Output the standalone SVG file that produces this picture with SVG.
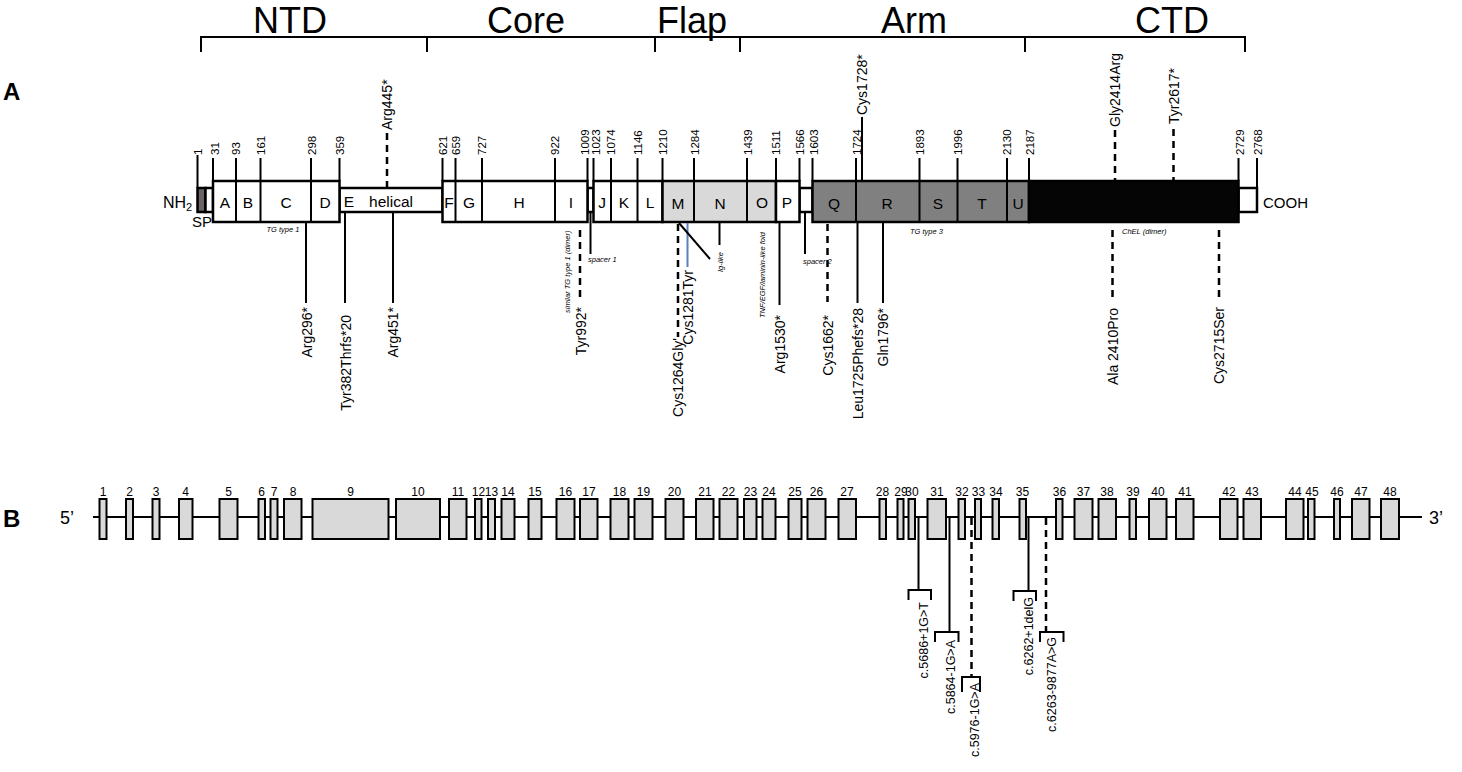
<svg xmlns="http://www.w3.org/2000/svg" width="1462" height="772" viewBox="0 0 1462 772">
<style>
text{font-family:"Liberation Sans",Arial,sans-serif;fill:#000}
.dom{font-size:36px;text-anchor:middle}
.pl{font-size:24px;font-weight:bold}
.num{font-size:11.5px}
.let{font-size:15.5px;text-anchor:middle}
.mut{font-size:14px}
.mute{font-size:14px;text-anchor:end}
.it{font-size:7.5px;font-style:italic}
.gm{font-size:12.5px;text-anchor:end}
.ex{font-size:12px;text-anchor:middle}
.box{stroke:#000;stroke-width:2.5}
.ln{stroke:#000;stroke-width:2;fill:none}
.ds{stroke:#000;stroke-width:2.5;stroke-dasharray:7 5;fill:none}
.exon{fill:#d9d9d9;stroke:#000;stroke-width:2}
</style>

<g id="domain-brackets">
<path class="ln" d="M201 52V37H1245V52M427 37V52M655 37V52M740 37V52M1025 37V52"/>
<text class="dom" x="290" y="33">NTD</text>
<text class="dom" x="526" y="33">Core</text>
<text class="dom" x="692" y="33">Flap</text>
<text class="dom" x="914" y="33">Arm</text>
<text class="dom" x="1172" y="33">CTD</text>
</g>

<text class="pl" x="3" y="100">A</text>
<text class="pl" x="3" y="527">B</text>

<g id="protein">
<text x="163" y="208" style="font-size:16px">NH<tspan style="font-size:11px" dy="3">2</tspan></text>
<text x="192" y="227" style="font-size:15px">SP</text>
<text x="1263" y="208" style="font-size:15px">COOH</text>
<!-- ticks -->
<path class="ln" d="M197.5 155V188M213 158V181M236 158V181M260.5 158V181M311 158V181M339.5 158V181M442.5 158V181M455.5 158V181M482 158V181M555 158V181M587.5 158V181M593.5 158V181M611 158V181M637.5 158V181M662.5 158V181M694 158V181M747 158V181M776 158V181M799.5 158V181M812.5 158V181M856 158V181M919.5 158V181M957.5 158V181M1007 158V181M1029 158V181M1238.5 158V181M1257 158V188"/>
<!-- thin boxes -->
<rect class="box" x="197.5" y="188" width="8" height="24" fill="#6b6464"/>
<rect class="box" x="205.5" y="188" width="7.5" height="24" fill="#fff"/>
<rect class="box" x="339.5" y="188" width="103" height="24" fill="#fff"/>
<rect class="box" x="587.5" y="188" width="6" height="24" fill="#fff"/>
<rect class="box" x="799.5" y="188" width="13" height="24" fill="#fff"/>
<rect class="box" x="1238.5" y="188" width="18.5" height="24" fill="#fff"/>
<!-- main boxes -->
<rect class="box" x="213" y="181" width="126.5" height="41" fill="#fff"/>
<rect class="box" x="442.5" y="181" width="145" height="41" fill="#fff"/>
<rect class="box" x="593.5" y="181" width="69" height="41" fill="#fff"/>
<rect class="box" x="662.5" y="181" width="113.5" height="41" fill="#d9d9d9"/>
<rect class="box" x="776" y="181" width="23.5" height="41" fill="#fff"/>
<rect class="box" x="812.5" y="181" width="216.5" height="41" fill="#808080"/>
<rect class="box" x="1029" y="181" width="209.5" height="41" fill="#050505"/>
<!-- dividers -->
<path class="ln" d="M236 181V222M260.5 181V222M311 181V222M455.5 181V222M482 181V222M555 181V222M611 181V222M637.5 181V222M694 181V222M747 181V222M856 181V222M919.5 181V222M957.5 181V222M1007 181V222"/>
<!-- letters -->
<text class="let" x="225" y="208">A</text>
<text class="let" x="248" y="208">B</text>
<text class="let" x="286" y="208">C</text>
<text class="let" x="325" y="208">D</text>
<text class="let" x="349" y="207">E</text>
<text class="let" x="391" y="207">helical</text>
<text class="let" x="449" y="208">F</text>
<text class="let" x="469" y="208">G</text>
<text class="let" x="519" y="208">H</text>
<text class="let" x="571" y="208">I</text>
<text class="let" x="602" y="208">J</text>
<text class="let" x="624" y="208">K</text>
<text class="let" x="650" y="208">L</text>
<text class="let" x="678" y="209">M</text>
<text class="let" x="720" y="209">N</text>
<text class="let" x="762" y="208">O</text>
<text class="let" x="787" y="208">P</text>
<text class="let" x="834" y="209">Q</text>
<text class="let" x="887" y="209">R</text>
<text class="let" x="938" y="209">S</text>
<text class="let" x="982" y="209">T</text>
<text class="let" x="1018" y="209">U</text>
<!-- numbers -->
<g class="numbers">
<text class="num" transform="translate(202,155) rotate(-90)">1</text>
<text class="num" transform="translate(219,155) rotate(-90)">31</text>
<text class="num" transform="translate(240,155) rotate(-90)">93</text>
<text class="num" transform="translate(265,155) rotate(-90)">161</text>
<text class="num" transform="translate(315.5,155) rotate(-90)">298</text>
<text class="num" transform="translate(343.5,155) rotate(-90)">359</text>
<text class="num" transform="translate(447,155) rotate(-90)">621</text>
<text class="num" transform="translate(460,155) rotate(-90)">659</text>
<text class="num" transform="translate(486,155) rotate(-90)">727</text>
<text class="num" transform="translate(559,155) rotate(-90)">922</text>
<text class="num" transform="translate(589,155) rotate(-90)">1009</text>
<text class="num" transform="translate(599.5,155) rotate(-90)">1023</text>
<text class="num" transform="translate(615,155) rotate(-90)">1074</text>
<text class="num" transform="translate(642,155) rotate(-90)">1146</text>
<text class="num" transform="translate(667,155) rotate(-90)">1210</text>
<text class="num" transform="translate(699,155) rotate(-90)">1284</text>
<text class="num" transform="translate(752,155) rotate(-90)">1439</text>
<text class="num" transform="translate(780,155) rotate(-90)">1511</text>
<text class="num" transform="translate(804,155) rotate(-90)">1566</text>
<text class="num" transform="translate(818,155) rotate(-90)">1603</text>
<text class="num" transform="translate(860.5,155) rotate(-90)">1724</text>
<text class="num" transform="translate(924,155) rotate(-90)">1893</text>
<text class="num" transform="translate(962,155) rotate(-90)">1996</text>
<text class="num" transform="translate(1011,155) rotate(-90)">2130</text>
<text class="num" transform="translate(1034,155) rotate(-90)">2187</text>
<text class="num" transform="translate(1244,155) rotate(-90)">2729</text>
<text class="num" transform="translate(1262,155) rotate(-90)">2768</text>
</g>
<!-- italic annotations -->
<text class="it" x="283" y="232" text-anchor="middle">TG type 1</text>
<text class="it" transform="translate(570,313) rotate(-90)">similar TG type 1 (dimer)</text>
<text class="it" x="588" y="262">spacer 1</text>
<text class="it" transform="translate(722.5,272) rotate(-90)">Ig-like</text>
<text class="it" transform="translate(764.5,318) rotate(-90)">TNF/EGF/laminin-like fold</text>
<text class="it" x="803" y="264">spacer 2</text>
<text class="it" x="910" y="234">TG type 3</text>
<text class="it" x="1122" y="234">ChEL (dimer)</text>
</g>

<g id="connectors">
<!-- upper -->
<path class="ds" d="M387 133V188"/>
<path class="ln" d="M862 117V181"/>
<path class="ds" d="M1115 130V181"/>
<path class="ds" d="M1173.5 129V181"/>
<!-- lower -->
<path class="ln" d="M306 222V303"/>
<path class="ln" d="M345 212V303"/>
<path class="ln" d="M393 212V303"/>
<path class="ds" d="M580 230V300"/>
<path class="ln" d="M590.5 212V254"/>
<path class="ds" d="M678 224V337"/>
<path d="M687.5 223V267" stroke="#5b7fbf" stroke-width="2"/>
<path class="ln" d="M679 223L710 259"/>
<path class="ln" d="M719.5 222V245"/>
<path class="ln" d="M779.5 222V305"/>
<path class="ln" d="M805 212V254"/>
<path class="ds" d="M827.5 224V302"/>
<path class="ln" d="M857.5 222V303"/>
<path class="ln" d="M883 222V303"/>
<path class="ds" d="M1112.5 230V300"/>
<path class="ds" d="M1219 230V300"/>
<!-- gene -->
<path class="ln" d="M918.5 518V590M908.5 600V590H931V600"/>
<path class="ln" d="M949.5 518V632M935 642V632H958.5V642"/>
<path class="ds" d="M971.5 518V677"/>
<path class="ln" d="M962 692V677H980V692"/>
<path class="ln" d="M1028.5 518V591M1013.5 601V591H1036V601"/>
<path class="ds" d="M1046 518V632"/>
<path class="ln" d="M1040 642V632H1063.5V642"/>
</g>

<g id="mutation-labels">
<text class="mut" transform="translate(392,130) rotate(-90)">Arg445*</text>
<text class="mut" transform="translate(867,115) rotate(-90)">Cys1728*</text>
<text class="mut" transform="translate(1120,127) rotate(-90)">Gly2414Arg</text>
<text class="mut" transform="translate(1178.5,124) rotate(-90)">Tyr2617*</text>
<text class="mute" transform="translate(311.5,307) rotate(-90)">Arg296*</text>
<text class="mute" transform="translate(350.5,315) rotate(-90)">Tyr382Thrfs*20</text>
<text class="mute" transform="translate(398,307) rotate(-90)">Arg451*</text>
<text class="mute" transform="translate(585.5,307) rotate(-90)">Tyr992*</text>
<text class="mute" transform="translate(683,338) rotate(-90)">Cys1264Gly'</text>
<text class="mute" transform="translate(693,270) rotate(-90)">Cys1281Tyr</text>
<text class="mute" transform="translate(784.5,315) rotate(-90)">Arg1530*</text>
<text class="mute" transform="translate(832.5,315) rotate(-90)">Cys1662*</text>
<text class="mute" transform="translate(862.5,308) rotate(-90)">Leu1725Phefs*28</text>
<text class="mute" transform="translate(888,308) rotate(-90)">Gln1796*</text>
<text class="mute" transform="translate(1117.5,308) rotate(-90)">Ala 2410Pro</text>
<text class="mute" transform="translate(1224,307) rotate(-90)">Cys2715Ser</text>
<text class="gm" transform="translate(927.5,602) rotate(-90)">c.5686+1G&gt;T</text>
<text class="gm" transform="translate(954.5,640) rotate(-90)">c.5864-1G&gt;A</text>
<text class="gm" transform="translate(978.5,683) rotate(-90)">c.5976-1G&gt;A</text>
<text class="gm" transform="translate(1032.5,597) rotate(-90)">c.6262+1delG</text>
<text class="gm" transform="translate(1056,637) rotate(-90)">c.6263-9877A&gt;G</text>
</g>

<g id="gene">
<text x="60" y="524" style="font-size:18px">5’</text>
<text x="1429" y="524" style="font-size:18px">3’</text>
<path class="ln" d="M93 517H1422"/>
<g id="exons">
<rect class="exon" x="99.5" y="499" width="7" height="40"/>
<rect class="exon" x="126" y="499" width="7" height="40"/>
<rect class="exon" x="152.5" y="499" width="7" height="40"/>
<rect class="exon" x="179" y="499" width="13.5" height="40"/>
<rect class="exon" x="219.5" y="499" width="18" height="40"/>
<rect class="exon" x="258.5" y="499" width="6.5" height="40"/>
<rect class="exon" x="270.5" y="499" width="7" height="40"/>
<rect class="exon" x="284" y="499" width="17.5" height="40"/>
<rect class="exon" x="312.5" y="499" width="76" height="40"/>
<rect class="exon" x="396" y="499" width="44" height="40"/>
<rect class="exon" x="449" y="499" width="17.5" height="40"/>
<rect class="exon" x="475" y="499" width="6.5" height="40"/>
<rect class="exon" x="488" y="499" width="7" height="40"/>
<rect class="exon" x="501.5" y="499" width="13" height="40"/>
<rect class="exon" x="528.5" y="499" width="13" height="40"/>
<rect class="exon" x="556.5" y="499" width="18" height="40"/>
<rect class="exon" x="580" y="499" width="17.5" height="40"/>
<rect class="exon" x="610.5" y="499" width="18" height="40"/>
<rect class="exon" x="634.5" y="499" width="18" height="40"/>
<rect class="exon" x="665.5" y="499" width="18" height="40"/>
<rect class="exon" x="696" y="499" width="17.5" height="40"/>
<rect class="exon" x="719.5" y="499" width="18" height="40"/>
<rect class="exon" x="744" y="499" width="12.5" height="40"/>
<rect class="exon" x="762.5" y="499" width="13" height="40"/>
<rect class="exon" x="788.5" y="499" width="13" height="40"/>
<rect class="exon" x="807.5" y="499" width="18" height="40"/>
<rect class="exon" x="838.5" y="499" width="17.5" height="40"/>
<rect class="exon" x="879.5" y="499" width="6.5" height="40"/>
<rect class="exon" x="897.5" y="499" width="6" height="40"/>
<rect class="exon" x="908.5" y="499" width="6.5" height="40"/>
<rect class="exon" x="927.5" y="499" width="18.5" height="40"/>
<rect class="exon" x="958.5" y="499" width="6.5" height="40"/>
<rect class="exon" x="975" y="499" width="6" height="40"/>
<rect class="exon" x="992.5" y="499" width="6.5" height="40"/>
<rect class="exon" x="1019.5" y="499" width="6.5" height="40"/>
<rect class="exon" x="1056" y="499" width="6.5" height="40"/>
<rect class="exon" x="1074.5" y="499" width="18" height="40"/>
<rect class="exon" x="1098.5" y="499" width="17.5" height="40"/>
<rect class="exon" x="1129.5" y="499" width="6.5" height="40"/>
<rect class="exon" x="1149" y="499" width="17.5" height="40"/>
<rect class="exon" x="1176" y="499" width="17.5" height="40"/>
<rect class="exon" x="1220" y="499" width="17.5" height="40"/>
<rect class="exon" x="1243.5" y="499" width="17.5" height="40"/>
<rect class="exon" x="1286" y="499" width="17.5" height="40"/>
<rect class="exon" x="1308" y="499" width="6.5" height="40"/>
<rect class="exon" x="1334" y="499" width="6" height="40"/>
<rect class="exon" x="1352" y="499" width="17.5" height="40"/>
<rect class="exon" x="1381" y="499" width="18" height="40"/>
</g>
<g id="exon-numbers">
<text class="ex" x="103" y="496">1</text>
<text class="ex" x="129.5" y="496">2</text>
<text class="ex" x="156" y="496">3</text>
<text class="ex" x="185.5" y="496">4</text>
<text class="ex" x="228.5" y="496">5</text>
<text class="ex" x="261.5" y="496">6</text>
<text class="ex" x="274" y="496">7</text>
<text class="ex" x="293" y="496">8</text>
<text class="ex" x="350.5" y="496">9</text>
<text class="ex" x="418" y="496">10</text>
<text class="ex" x="458" y="496">11</text>
<text class="ex" x="478.5" y="496">12</text>
<text class="ex" x="491.5" y="496">13</text>
<text class="ex" x="508" y="496">14</text>
<text class="ex" x="535" y="496">15</text>
<text class="ex" x="565.5" y="496">16</text>
<text class="ex" x="589" y="496">17</text>
<text class="ex" x="619.5" y="496">18</text>
<text class="ex" x="643.5" y="496">19</text>
<text class="ex" x="674.5" y="496">20</text>
<text class="ex" x="705" y="496">21</text>
<text class="ex" x="728.5" y="496">22</text>
<text class="ex" x="750.5" y="496">23</text>
<text class="ex" x="769" y="496">24</text>
<text class="ex" x="795" y="496">25</text>
<text class="ex" x="816.5" y="496">26</text>
<text class="ex" x="847" y="496">27</text>
<text class="ex" x="882.5" y="496">28</text>
<text class="ex" x="901" y="496">29</text>
<text class="ex" x="912" y="496">30</text>
<text class="ex" x="937" y="496">31</text>
<text class="ex" x="962" y="496">32</text>
<text class="ex" x="978.5" y="496">33</text>
<text class="ex" x="996" y="496">34</text>
<text class="ex" x="1022.5" y="496">35</text>
<text class="ex" x="1059.5" y="496">36</text>
<text class="ex" x="1083.5" y="496">37</text>
<text class="ex" x="1107" y="496">38</text>
<text class="ex" x="1133" y="496">39</text>
<text class="ex" x="1158" y="496">40</text>
<text class="ex" x="1185" y="496">41</text>
<text class="ex" x="1229" y="496">42</text>
<text class="ex" x="1252" y="496">43</text>
<text class="ex" x="1295" y="496">44</text>
<text class="ex" x="1312" y="496">45</text>
<text class="ex" x="1337" y="496">46</text>
<text class="ex" x="1361" y="496">47</text>
<text class="ex" x="1390" y="496">48</text>
</g>
</g>
</svg>
